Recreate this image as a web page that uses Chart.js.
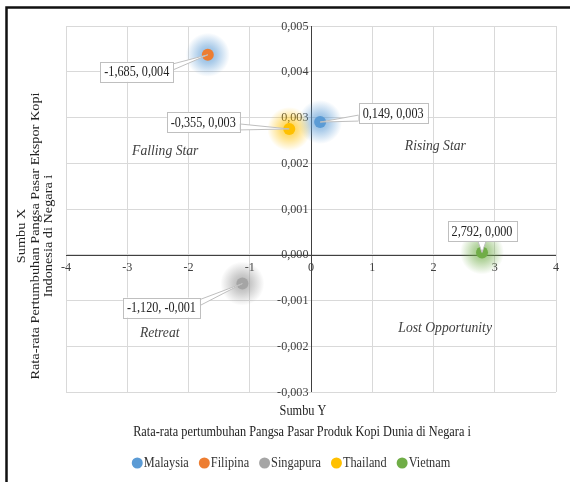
<!DOCTYPE html>
<html>
<head>
<meta charset="utf-8">
<script src="https://cdn.jsdelivr.net/npm/chart.js@4.4.1/dist/chart.umd.min.js"></script>
<style>
html,body{margin:0;padding:0;background:#fff;}
#wrap{width:570px;height:482px;}
</style>
</head>
<body>
<div id="wrap"><canvas id="c" width="570" height="482"></canvas></div>
<script>
// ---- data ----
const countries = ["Malaysia", "Filipina", "Singapura", "Thailand", "Vietnam"];
const xValues = [0.149, -1.685, -1.120, -0.355, 2.792];   // Sumbu Y
const yValues = [0.0029, 0.00437, -0.00063, 0.00275, 0.00005]; // Sumbu X
const xTicks = [-4, -3, -2, -1, 0, 1, 2, 3, 4];
const yTicks = [-0.003, -0.002, -0.001, 0, 0.001, 0.002, 0.003, 0.004, 0.005];
const quadrantNames = ["Falling Star", "Rising Star", "Retreat", "Lost Opportunity"];

// ---- styles ----
const colors = ["#5B9BD5", "#ED7D31", "#A5A5A5", "#FFC000", "#70AD47"];
const glowColors = ["91,155,213", "91,155,213", "150,150,150", "255,192,0", "112,173,71"];
const labelOffsets = [[73, -9], [-71, 17], [-81, 24], [-86, -7], [0, -21]];
const quadrantPos = [[-2.38, 0.00228], [2.03, 0.00237], [-2.47, -0.0017], [2.19, -0.0016]];
const SERIF = '"Liberation Serif", "Times New Roman", serif';
const SQ = 0.87;

const fmt = v => v.toFixed(3).replace('.', ',');

function sText(ctx, txt, x, y, sx) {
  ctx.save();
  ctx.translate(x, y);
  ctx.scale(sx, 1);
  ctx.fillText(txt, 0, 0);
  ctx.restore();
}

const datasets = countries.map((name, i) => ({
  label: name,
  data: [{x: xValues[i], y: yValues[i]}],
  backgroundColor: colors[i],
  borderColor: colors[i],
  pointRadius: 6,
  pointHoverRadius: 6,
  borderWidth: 0
}));

const deco = {
  id: 'deco',
  beforeDraw(chart) {
    const ctx = chart.ctx;
    ctx.save();
    ctx.fillStyle = '#fff';
    ctx.fillRect(0, 0, chart.width, chart.height);
    ctx.strokeStyle = '#111';
    ctx.lineWidth = 2.5;
    ctx.beginPath();
    ctx.moveTo(6.5, 482);
    ctx.lineTo(6.5, 7.5);
    ctx.lineTo(570, 7.5);
    ctx.stroke();
    ctx.restore();
  },
  beforeDatasetsDraw(chart) {
    const ctx = chart.ctx;
    const xs = chart.scales.x, ys = chart.scales.y;
    const a = chart.chartArea;
    ctx.save();
    // zero axes
    ctx.strokeStyle = '#404040';
    ctx.lineWidth = 1;
    const x0 = Math.round(xs.getPixelForValue(0)) + 0.5;
    const y0 = Math.round(ys.getPixelForValue(0)) + 0.5;
    ctx.beginPath();
    ctx.moveTo(x0, a.top); ctx.lineTo(x0, a.bottom);
    ctx.moveTo(a.left, y0); ctx.lineTo(a.right, y0);
    ctx.stroke();
    // tick labels
    ctx.fillStyle = '#404040';
    ctx.font = '13.5px ' + SERIF;
    ctx.textAlign = 'right';
    ctx.textBaseline = 'middle';
    yTicks.forEach(v => {
      sText(ctx, fmt(v), x0 - 3, ys.getPixelForValue(v), 0.9);
    });
    ctx.textAlign = 'center';
    ctx.textBaseline = 'top';
    xTicks.forEach(v => {
      sText(ctx, String(v), xs.getPixelForValue(v), y0 + 5, 0.9);
    });
    // quadrant labels
    ctx.font = 'italic 15.5px ' + SERIF;
    ctx.fillStyle = '#404040';
    ctx.textBaseline = 'middle';
    quadrantNames.forEach((q, i) => {
      sText(ctx, q, xs.getPixelForValue(quadrantPos[i][0]), ys.getPixelForValue(quadrantPos[i][1]), 0.88);
    });
    // glows
    chart.data.datasets.forEach((ds, i) => {
      const el = chart.getDatasetMeta(i).data[0];
      const r = 22;
      const g = ctx.createRadialGradient(el.x, el.y, 0, el.x, el.y, r);
      g.addColorStop(0, 'rgba(' + glowColors[i] + ',0.75)');
      g.addColorStop(0.4, 'rgba(' + glowColors[i] + ',0.5)');
      g.addColorStop(1, 'rgba(' + glowColors[i] + ',0)');
      ctx.fillStyle = g;
      ctx.beginPath();
      ctx.arc(el.x, el.y, r, 0, Math.PI * 2);
      ctx.fill();
    });
    // axis titles
    ctx.fillStyle = '#222';
    ctx.font = '14.3px ' + SERIF;
    ctx.textAlign = 'center';
    ctx.textBaseline = 'middle';
    sText(ctx, 'Sumbu Y', 303, 411, 0.86);
    sText(ctx, 'Rata-rata pertumbuhan Pangsa Pasar Produk Kopi Dunia di Negara i', 302, 432, 0.86);
    ctx.save();
    ctx.translate(0, 236);
    ctx.rotate(-Math.PI / 2);
    [['Sumbu X', 22], ['Rata-rata Pertumbuhan Pangsa Pasar Ekspor Kopi', 36], ['Indonesia di Negara i', 49]].forEach(([t, yy]) => {
      ctx.save();
      ctx.translate(0, yy);
      ctx.scale(1, 0.86);
      ctx.fillText(t, 0, 0);
      ctx.restore();
    });
    ctx.restore();
    // legend
    ctx.font = '14.3px ' + SERIF;
    ctx.textAlign = 'left';
    const widths = countries.map(c => ctx.measureText(c).width * 0.86);
    const itemW = widths.map(w => 12 + w);
    const gap = 10;
    const total = itemW.reduce((s, w) => s + w, 0) + gap * (countries.length - 1);
    let lx = 291 - total / 2;
    const ly = 463;
    countries.forEach((c, i) => {
      ctx.fillStyle = colors[i];
      ctx.beginPath();
      ctx.arc(lx + 5.5, ly, 5.5, 0, Math.PI * 2);
      ctx.fill();
      ctx.fillStyle = '#333';
      sText(ctx, c, lx + 12, ly, 0.86);
      lx += itemW[i] + gap;
    });
    ctx.restore();
  },
  afterDatasetsDraw(chart) {
    const ctx = chart.ctx;
    ctx.save();
    ctx.font = '14px ' + SERIF;
    ctx.textAlign = 'center';
    ctx.textBaseline = 'middle';
    chart.data.datasets.forEach((ds, i) => {
      const el = chart.getDatasetMeta(i).data[0];
      const txt = fmt(xValues[i]) + ', ' + fmt(yValues[i]);
      const w = ctx.measureText(txt).width * SQ + 8;
      const h = 20;
      const cx = el.x + labelOffsets[i][0];
      const cy = el.y + labelOffsets[i][1];
      const L = cx - w / 2, T = cy - h / 2, R = cx + w / 2, B = cy + h / 2;
      let ax = Math.min(Math.max(el.x, L), R);
      let ay = Math.min(Math.max(el.y, T), B);
      let p1, p2;
      if (ax === L || ax === R) {
        ay = Math.min(Math.max(ay, T + 5), B - 5);
        p1 = [ax, ay - 3]; p2 = [ax, ay + 3];
      } else {
        ax = Math.min(Math.max(ax, L + 5), R - 5);
        p1 = [ax - 4, ay]; p2 = [ax + 4, ay];
      }
      ctx.fillStyle = '#fff';
      ctx.strokeStyle = '#bfbfbf';
      ctx.lineWidth = 1;
      ctx.beginPath();
      ctx.moveTo(p1[0], p1[1]);
      ctx.lineTo(el.x, el.y);
      ctx.lineTo(p2[0], p2[1]);
      ctx.closePath();
      ctx.fill();
      ctx.stroke();
      ctx.fillRect(L, T, w, h);
      ctx.strokeRect(Math.round(L) + 0.5, Math.round(T) + 0.5, Math.round(w), h);
      ctx.fillStyle = '#222';
      sText(ctx, txt, cx, cy + 1, SQ);
    });
    ctx.restore();
  }
};

new Chart(document.getElementById('c'), {
  type: 'scatter',
  data: { datasets },
  options: {
    responsive: false,
    animation: false,
    layout: { padding: { left: 66, top: 26, right: 14, bottom: 90 } },
    plugins: { legend: { display: false }, tooltip: { enabled: false } },
    scales: {
      x: {
        type: 'linear', min: -4, max: 4,
        ticks: { display: false, stepSize: 1 },
        grid: { color: '#d9d9d9', drawTicks: false, lineWidth: 1 },
        border: { display: false }
      },
      y: {
        type: 'linear', min: -0.003, max: 0.005,
        ticks: { display: false, stepSize: 0.001 },
        grid: { color: '#d9d9d9', drawTicks: false, lineWidth: 1 },
        border: { display: false }
      }
    }
  },
  plugins: [deco]
});
</script>
</body>
</html>
